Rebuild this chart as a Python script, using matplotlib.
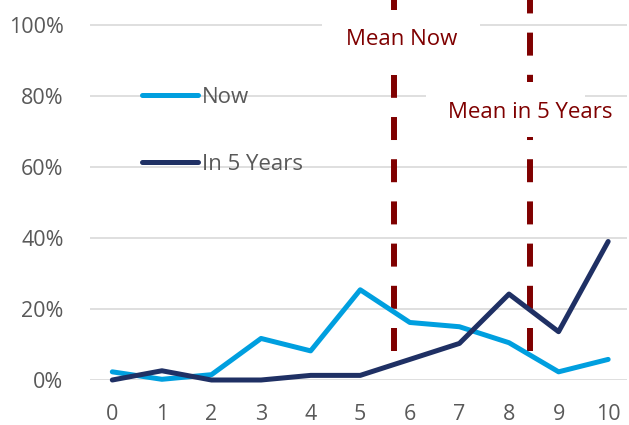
import matplotlib.pyplot as plt
from matplotlib.patches import Rectangle

plt.rcParams['font.family'] = ['Open Sans', 'DejaVu Sans']

# Share of responses by score (0-10)
scores = list(range(11))
now = [0.023, 0.002, 0.015, 0.117, 0.082, 0.254, 0.162, 0.150, 0.105, 0.023, 0.058]
in_5_years = [0.000, 0.026, 0.000, 0.000, 0.013, 0.013, 0.058, 0.103, 0.242, 0.136, 0.390]
y_ticks = [0, 0.2, 0.4, 0.6, 0.8, 1.0]
y_tick_labels = ['0%', '20%', '40%', '60%', '80%', '100%']

blue = '#009FDF'
navy = '#1F3064'
dark_red = '#7F0000'
grey_text = '#595959'

# weighted mean score for each series
mean_now = sum(s * v for s, v in zip(scores, now)) / sum(now)
mean_5y = sum(s * v for s, v in zip(scores, in_5_years)) / sum(in_5_years)

fig = plt.figure(figsize=(6.29, 4.25), dpi=100)
ax = fig.add_axes([90 / 629, 45 / 425, 537 / 629, 380 / 425])

ax.plot(scores, now, color=blue, lw=3.6, label='Now', solid_capstyle='round',
        solid_joinstyle='round', clip_on=False, zorder=4)
ax.plot(scores, in_5_years, color=navy, lw=3.6, label='In 5 Years', solid_capstyle='round',
        solid_joinstyle='round', clip_on=False, zorder=5)

# mean markers, dashed from near the bottom up past the top
lw_mean = 4.3
dash = (0, (23 / 1.389 / lw_mean, 19.2 / 1.389 / lw_mean))
for m in (mean_now, mean_5y):
    ax.plot([m, m], [0.0825, 1.12], color=dark_red, lw=lw_mean, linestyle=dash,
            solid_capstyle='butt', dash_capstyle='butt', zorder=3)

# white label boxes over the grid and dashes
ax.add_patch(Rectangle((4.23, 0.859), 3.18, 0.183, facecolor='white', edgecolor='none', zorder=6))
ax.add_patch(Rectangle((6.32, 0.685), 3.21, 0.154, facecolor='white', edgecolor='none', zorder=6))
ax.text(5.83, 0.958, 'Mean Now', color=dark_red, fontsize=16, ha='center', va='center', zorder=7)
ax.text(8.42, 0.752, 'Mean in 5 Years', color=dark_red, fontsize=16, ha='center', va='center', zorder=7)

ax.set_xlim(-0.45, 10.38)
ax.set_ylim(0, 1.07)
ax.set_xticks(scores)
ax.set_yticks(y_ticks)
ax.set_yticklabels(y_tick_labels)
ax.tick_params(length=0, labelsize=15.5, labelcolor=grey_text)
ax.tick_params(axis='x', pad=17)
ax.tick_params(axis='y', pad=19)
ax.grid(axis='y', color='#D9D9D9', lw=1.2)
ax.set_axisbelow(True)
for side in ax.spines.values():
    side.set_visible(False)

leg = ax.legend(loc='upper left', bbox_to_anchor=(142 / 629, 1 - 87 / 425),
                bbox_transform=fig.transFigure, frameon=False, fontsize=16,
                handlelength=2.5, handletextpad=0.2, labelspacing=2.08,
                borderpad=0, borderaxespad=0)
for t in leg.get_texts():
    t.set_color(grey_text)
for h in leg.get_lines():
    h.set_solid_capstyle('round')

fig.savefig('out.png', dpi=100)
